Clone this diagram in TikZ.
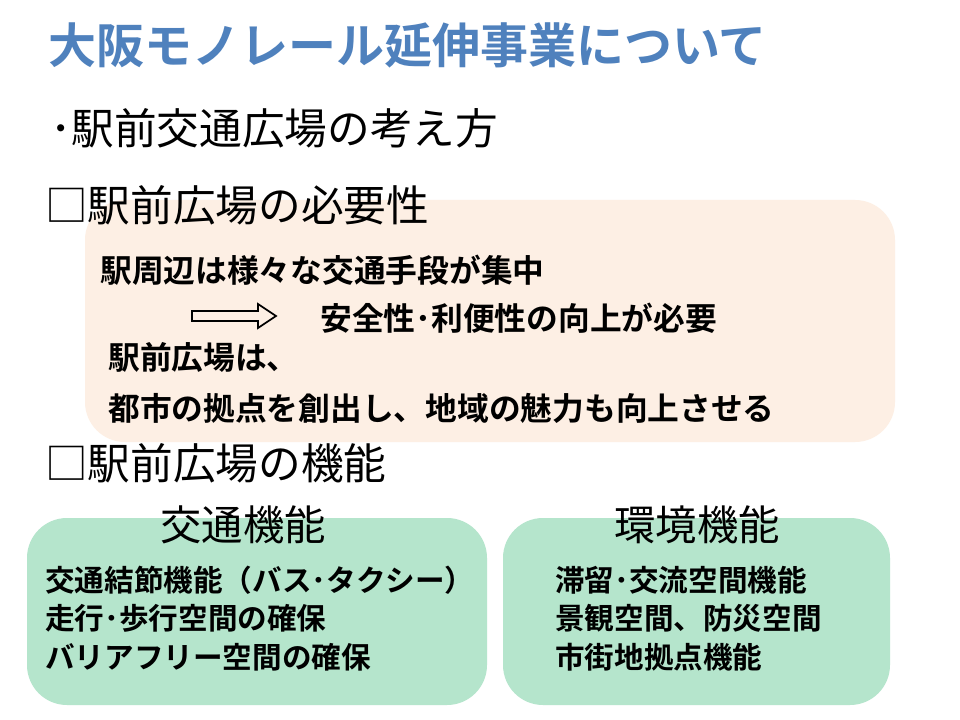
\documentclass[tikz,border=0pt]{standalone}
\usepackage{fontspec}
\newfontfamily\cjk{Noto Sans CJK JP}
\newfontfamily\cjkb{Noto Sans CJK JP Bold}
\definecolor{titleblue}{HTML}{4F81BD}
\definecolor{pinkbg}{HTML}{FDEFE4}
\definecolor{greenbg}{HTML}{B5E5CC}
\tikzset{
 head/.style={anchor=west,inner sep=0,font=\cjk\fontsize{32}{32}\selectfont},
 body/.style={anchor=west,inner sep=0,font=\cjkb\fontsize{23.8}{23.8}\selectfont},
 sub/.style={anchor=center,inner sep=0,font=\cjk\fontsize{31}{31}\selectfont},
 small/.style={anchor=west,inner sep=0,font=\cjkb\fontsize{22.2}{22.2}\selectfont},
 panel/.style={rounded corners=30pt}
}
\begin{document}
\begin{tikzpicture}[x=0.75pt,y=-0.75pt]
\useasboundingbox (0,0) rectangle (960,720);
\fill[white] (0,0) rectangle (960,720);
\node[anchor=west,inner sep=0,text=titleblue,font=\cjkb\fontsize{36}{36}\selectfont] (title) at (48,45) {大阪モノレール延伸事業について};
\node[head] (h1) at (50,128) {･駅前交通広場の考え方};
\fill[pinkbg,panel] (85,200) rectangle (895,442);
\node[head] (h2) at (45,205) {□駅前広場の必要性};
\node[body] (t1) at (100,270) {駅周辺は様々な交通手段が集中};
\draw[line width=1.3pt,line join=miter] (192,311) -- (258,311) -- (258,304) -- (276,316) -- (258,328) -- (258,321) -- (192,321) -- cycle;
\node[body] (t2) at (320,318) {安全性･利便性の向上が必要};
\node[body] (t3) at (108,357) {駅前広場は、};
\node[body] (t4) at (108,408) {都市の拠点を創出し、地域の魅力も向上させる};
\node[head] (h3) at (45,463) {□駅前広場の機能};
\fill[greenbg,panel] (27,518) rectangle (487,705);
\fill[greenbg,panel] (503,518) rectangle (890,705);
\node[sub] (g1) at (243,525) {交通機能};
\node[sub] (g2) at (697,525) {環境機能};
\node[small] (l1) at (45,580) {交通結節機能（バス･タクシー）};
\node[small] (l2) at (45,618) {走行･歩行空間の確保};
\node[small] (l3) at (45,657) {バリアフリー空間の確保};
\node[small] (r1) at (555,580) {滞留･交流空間機能};
\node[small] (r2) at (555,618) {景観空間、防災空間};
\node[small] (r3) at (555,657) {市街地拠点機能};
\end{tikzpicture}
\end{document}
